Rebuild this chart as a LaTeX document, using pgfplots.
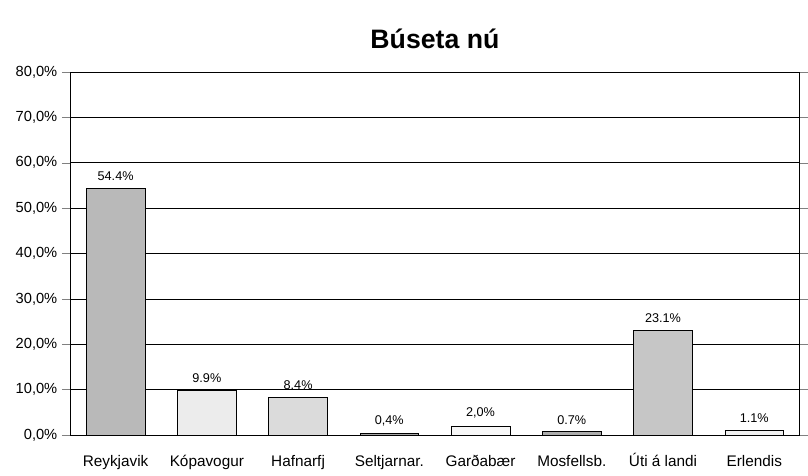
\documentclass[border=0pt]{standalone}
\usepackage{pgfplots}
\pgfplotsset{compat=1.18}
\usepackage{fontspec}
\setmainfont{Liberation Sans}
\begin{document}
\begin{tikzpicture}
\begin{axis}[
  at={(0pt,0pt)}, anchor=south west,
  scale only axis,
  width=547.5pt, height=272.25pt,
  xmin=-0.5, xmax=7.5, ymin=0, ymax=80,
  xtick={0,...,7},
  xticklabels={Reykjavik,Kópavogur,Hafnarfj,Seltjarnar.,Garðabær,Mosfellsb.,Úti á landi,Erlendis},
  x tick label style={font=\fontsize{11.5}{13}\selectfont, yshift=-5pt, text height=9pt},
  major x tick style={draw=none},
  extra x ticks={0.5,1.5,...,6.5},
  extra x tick labels={},
  extra x tick style={tick align=center, major tick length=6pt, tick style={draw=black}},
  ytick={0,10,...,80},
  yticklabels={{0,0\%},{10,0\%},{20,0\%},{30,0\%},{40,0\%},{50,0\%},{60,0\%},{70,0\%},{80,0\%}},
  y tick label style={font=\fontsize{11}{13}\selectfont},
  ytick align=outside, major tick length=6pt,
  ymajorgrids, grid style={black, line width=0.5pt},
  axis line style={black, line width=0.6pt},
  ybar, bar width=44pt, bar shift=0pt,
  point meta=explicit symbolic,
  nodes near coords,
  every node near coord/.append style={font=\fontsize{9.5}{11}\selectfont, yshift=2pt},
  title={\fontsize{20}{24}\selectfont\bfseries Búseta nú},
  title style={yshift=8pt},
]
\addplot[fill=gray!55, draw=black] coordinates {(0,54.4) [54.4\%]};
\addplot[fill=gray!15, draw=black] coordinates {(1,9.9) [9.9\%]};
\addplot[fill=gray!28, draw=black] coordinates {(2,8.4) [8.4\%]};
\addplot[fill=gray!70, draw=black] coordinates {(3,0.4) [0,4\%]};
\addplot[fill=gray!6, draw=black] coordinates {(4,2.0) [2,0\%]};
\addplot[fill=gray!65, draw=black] coordinates {(5,0.7) [0.7\%]};
\addplot[fill=gray!45, draw=black] coordinates {(6,23.1) [23.1\%]};
\addplot[fill=gray!12, draw=black] coordinates {(7,1.1) [1.1\%]};
\end{axis}
\path[use as bounding box] (-52.5pt,-30.75pt) rectangle (553.5pt,326.25pt);
\end{tikzpicture}
\end{document}
